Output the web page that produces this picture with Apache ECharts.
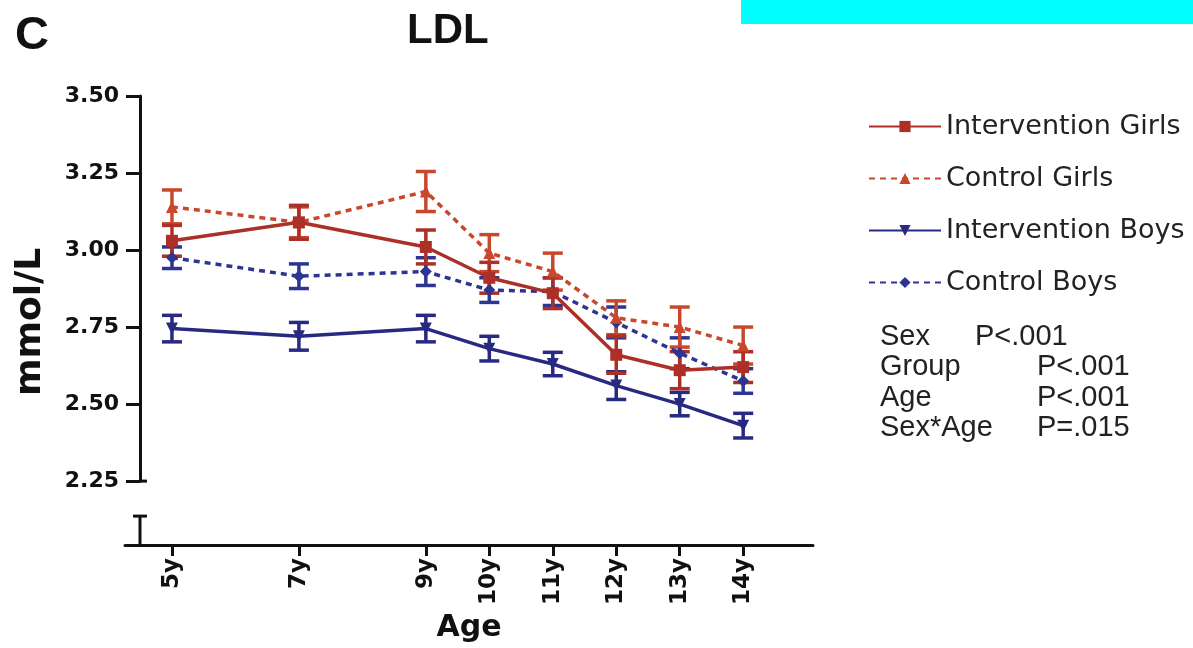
<!DOCTYPE html>
<html>
<head>
<meta charset="utf-8">
<script src="https://cdn.jsdelivr.net/npm/echarts@6/dist/echarts.min.js"></script>
<style>
  html, body { margin: 0; padding: 0; background: #fff; }
  #chart { width: 1193px; height: 648px; }
</style>
</head>
<body>
<div id="chart"></div>
<script>
// ages (x) and tick labels
var ages = [5, 7, 9, 10, 11, 12, 13, 14];
var ageLabels = ['5y', '7y', '9y', '10y', '11y', '12y', '13y', '14y'];

// means and standard errors, mmol/L
var ivGirls   = [3.03, 3.09, 3.01, 2.91, 2.86, 2.66, 2.61, 2.62];
var ivGirlsSE = [0.05, 0.055, 0.055, 0.05, 0.05, 0.06, 0.06, 0.05];
var ctGirls   = [3.14, 3.09, 3.19, 2.99, 2.93, 2.78, 2.75, 2.69];
var ctGirlsSE = [0.055, 0.05, 0.065, 0.06, 0.06, 0.055, 0.065, 0.06];
var ivBoys    = [2.745, 2.72, 2.745, 2.68, 2.63, 2.56, 2.50, 2.43];
var ivBoysSE  = [0.043, 0.045, 0.043, 0.04, 0.038, 0.045, 0.038, 0.04];
var ctBoys    = [2.975, 2.915, 2.93, 2.87, 2.865, 2.765, 2.665, 2.575];
var ctBoysSE  = [0.035, 0.04, 0.045, 0.04, 0.045, 0.05, 0.05, 0.04];

var seriesNames = ['Intervention Girls', 'Control Girls', 'Intervention Boys', 'Control Boys'];
var statNames = ['Sex', 'Group', 'Age', 'Sex*Age'];
var statValues = ['P<.001', 'P<.001', 'P<.001', 'P=.015'];

var colors = ['#ad3028', '#c9472d', '#282a82', '#2d3590'];
var arial = 'Arial, "Liberation Sans", sans-serif';
var wide = '"DejaVu Sans", Arial, sans-serif';

function pairs(xs, ys) {
    var out = [];
    for (var i = 0; i < xs.length; i++) out.push([xs[i], ys[i]]);
    return out;
}
function triples(xs, ys, es) {
    var out = [];
    for (var i = 0; i < xs.length; i++) out.push([xs[i], ys[i], es[i]]);
    return out;
}

// error bar: vertical line with caps
function errorBar(color) {
    return function (params, api) {
        var x = api.value(0), m = api.value(1), se = api.value(2);
        var top = api.coord([x, m + se]);
        var bot = api.coord([x, m - se]);
        var hw = 10;
        var st = { stroke: color, lineWidth: 3.5 };
        return {
            type: 'group',
            children: [
                { type: 'line', shape: { x1: top[0], y1: top[1], x2: bot[0], y2: bot[1] }, style: st },
                { type: 'line', shape: { x1: top[0] - hw, y1: top[1], x2: top[0] + hw, y2: top[1] }, style: st },
                { type: 'line', shape: { x1: bot[0] - hw, y1: bot[1], x2: bot[0] + hw, y2: bot[1] }, style: st }
            ]
        };
    };
}

var means = [ivGirls, ctGirls, ivBoys, ctBoys];
var ses = [ivGirlsSE, ctGirlsSE, ivBoysSE, ctBoysSE];
var symbols = ['rect', 'triangle', 'triangle', 'diamond'];
var rotates = [0, 0, 180, 0];
var dashed = [false, true, false, true];

var series = [];
for (var k = 3; k >= 0; k--) {
    series.push({
        name: seriesNames[k] + ' SE',
        type: 'custom',
        renderItem: errorBar(colors[k]),
        data: triples(ages, means[k], ses[k]),
        z: 2
    });
    series.push({
        name: seriesNames[k],
        type: 'line',
        data: pairs(ages, means[k]),
        symbol: symbols[k],
        symbolRotate: rotates[k],
        symbolSize: 12,
        itemStyle: { color: colors[k] },
        lineStyle: { color: colors[k], width: 3.5, type: dashed[k] ? [6, 5] : 'solid' },
        z: 3
    });
}

var chart = echarts.init(document.getElementById('chart'));

var graphics = [
    { id: 'band', type: 'rect', left: 741, top: 0, shape: { width: 452, height: 24 }, style: { fill: '#00ffff' } },
    { id: 'panel', type: 'text', left: 15, top: 13, style: { text: 'C', font: 'bold 47px ' + arial, fill: '#111' } },
    { id: 'ylabel', type: 'text', x: 31, y: 322, rotation: Math.PI / 2,
      style: { text: 'mmol/L', font: 'bold 36px ' + wide, fill: '#111', align: 'center', verticalAlign: 'middle' } }
];
var statPx = [975, 1037, 1037, 1037];
for (var s = 0; s < statNames.length; s++) {
    graphics.push({
        id: 'sn' + s, type: 'text', left: 880, top: 322 + s * 30.5,
        style: { text: statNames[s], font: '29px ' + arial, fill: '#222' }
    });
    graphics.push({
        id: 'sv' + s, type: 'text', left: statPx[s], top: 322 + s * 30.5,
        style: { text: statValues[s], font: '29px ' + arial, fill: '#222' }
    });
}

var option = {
    animation: false,
    backgroundColor: '#fff',
    title: {
        text: 'LDL', left: 402, top: 5,
        textStyle: { fontFamily: arial, fontSize: 42, fontWeight: 'bold', color: '#111' }
    },
    grid: { left: 125, right: 380, top: 96, bottom: 166 },
    xAxis: {
        type: 'value', min: 4.26, max: 15.1, offset: 64,
        name: 'Age', nameLocation: 'middle', nameGap: 66,
        nameTextStyle: { fontFamily: wide, fontSize: 30, fontWeight: 'bold', color: '#111' },
        splitLine: { show: false },
        axisLine: { lineStyle: { color: '#111', width: 3 } },
        axisTick: { length: 11, lineStyle: { width: 3, color: '#111' }, customValues: ages },
        axisLabel: {
            rotate: 90, margin: 13, fontFamily: wide, fontSize: 23, fontWeight: 'bold', color: '#111',
            customValues: ages,
            formatter: function (v) { return ageLabels[ages.indexOf(v)] || ''; }
        }
    },
    yAxis: {
        type: 'value', min: 2.25, max: 3.5, interval: 0.25, offset: -15,
        splitLine: { show: false },
        axisLine: { show: true, lineStyle: { color: '#111', width: 3 } },
        axisTick: { show: true, length: 14, lineStyle: { width: 3, color: '#111' } },
        axisLabel: {
            margin: 21, fontFamily: wide, fontSize: 22, fontWeight: 'bold', color: '#111',
            formatter: function (v) { return v.toFixed(2); }
        }
    },
    legend: {
        data: seriesNames,
        orient: 'vertical', left: 863, top: 108,
        itemWidth: 72, itemHeight: 14, itemGap: 25,
        textStyle: { fontFamily: wide, fontSize: 27, color: '#222' }
    },
    series: series,
    graphic: graphics
};

chart.setOption(option);

// broken y axis: short piece below 2.25 down to the x axis
var p = chart.convertToPixel({ gridIndex: 0 }, [4.26, 2.25]);
var axisX = p[0] + 15;
var yLow = p[1];
var yBase = yLow + 64;
var yStub = yLow + 35;
chart.setOption({
    graphic: [
        { id: 'brk1', type: 'line', shape: { x1: axisX, y1: yStub, x2: axisX, y2: yBase }, style: { stroke: '#111', lineWidth: 3 } },
        { id: 'brk2', type: 'line', shape: { x1: axisX - 7, y1: yStub, x2: axisX + 7, y2: yStub }, style: { stroke: '#111', lineWidth: 3 } },
        { id: 'brk3', type: 'line', shape: { x1: axisX, y1: yLow, x2: axisX + 7, y2: yLow }, style: { stroke: '#111', lineWidth: 3 } }
    ]
});
</script>
</body>
</html>
